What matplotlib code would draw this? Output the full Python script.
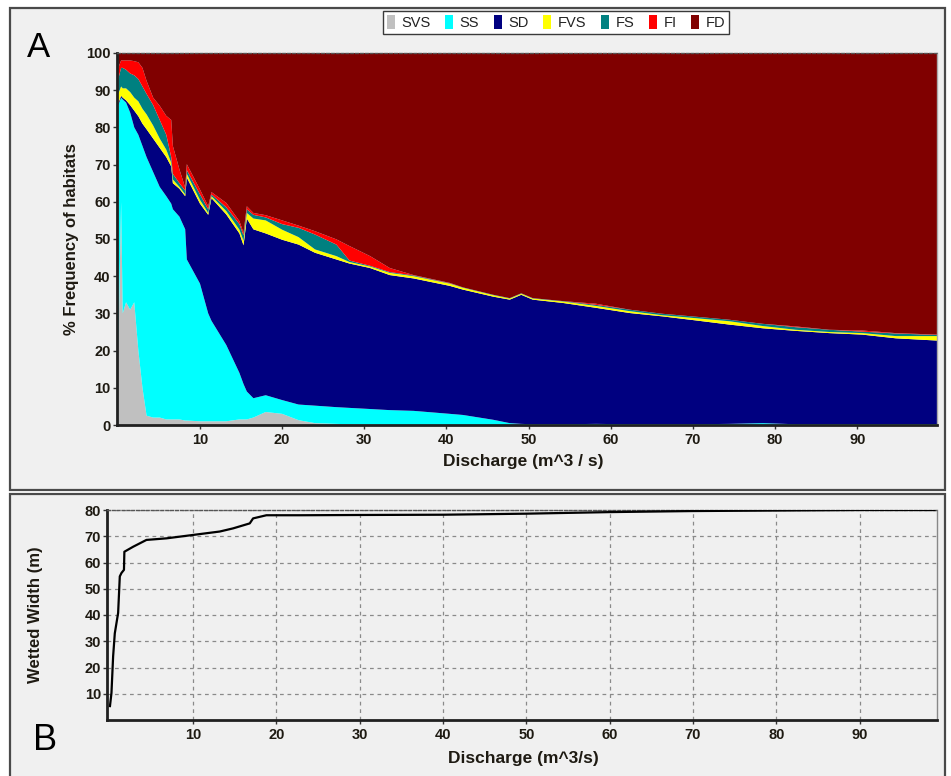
import numpy as np
import matplotlib
matplotlib.use("Agg")
import matplotlib.pyplot as plt
from matplotlib.patches import Rectangle, Patch

plt.rcParams['font.family'] = ['Liberation Sans', 'DejaVu Sans']

# ---------------- Panel A data: % frequency of habitats vs discharge ----------------
discharge_a = [0.05, 0.4, 0.6, 1.0, 1.5, 2.0, 2.5, 3.0, 3.5, 4.3, 5.1, 5.9, 6.5, 6.7, 7.5,
               8.2, 8.4, 10.0, 11.0, 11.4, 13.2, 14.8, 15.3, 15.7, 16.5, 18.0, 20.0, 22.0,
               24.0, 26.6, 28.2, 30.7, 33.1, 36.0, 40.4, 42.0, 45.7, 47.7, 49.1, 50.5, 54.2,
               58.2, 62.3, 66.3, 70.4, 74.4, 78.5, 82.5, 86.6, 90.6, 94.7, 99.7]
svs = [20, 60, 30, 33, 31, 33, 20, 10, 2.5, 2, 2, 1.5, 1.5, 1.5, 1.5,
       1.2, 1.2, 1, 1, 1, 1, 1.5, 1.5, 1.5, 2, 3.5, 3, 1.3,
       0.5, 0.3, 0.2, 0.1, 0, 0, 0, 0, 0, 0, 0, 0, 0,
       0, 0, 0, 0, 0, 0, 0, 0, 0, 0, 0]
ss = [66, 28, 57.5, 53.7, 53, 47, 58, 65, 69.5, 66, 62, 60, 58, 56.5, 54.5,
      51.4, 43.3, 37, 29, 27, 20.5, 12.5, 9.5, 7.5, 5.2, 4.5, 3.7, 4.2,
      4.7, 4.5, 4.4, 4.2, 4, 3.8, 3, 2.7, 1.4, 0.5, 0.3, 0.2, 0.2,
      0.3, 0.2, 0.2, 0.2, 0.3, 0.5, 0.2, 0.2, 0.2, 0.2, 0.2]
sd = [0.5, 0.5, 0.5, 0.6, 2, 4.5, 5, 6, 7.5, 9, 10.5, 10.5, 10, 7, 7.5,
      8.9, 22, 21.5, 26.5, 33, 35.1, 37.5, 37.3, 46.5, 45.4, 43.5, 43.1, 43,
      41.1, 39.7, 38.8, 37.9, 36.3, 35.6, 34.4, 33.7, 33.1, 33.2, 34.7, 33.5, 32.6,
      31.2, 29.9, 29, 27.9, 26.7, 25.5, 25.1, 24.5, 24.1, 23.1, 22.5]
fvs = [2.5, 2.5, 2.5, 3.2, 3.5, 3.5, 4, 4, 4, 3.5, 2.5, 2, 1, 1, 0.5,
       0.5, 1, 1, 0.5, 0.5, 0.9, 1, 1.2, 1.5, 2.9, 3.5, 2.7, 2,
       0.9, 0.9, 0.4, 0.4, 0.6, 0.6, 0.6, 0.5, 0.4, 0.3, 0.3, 0.3, 0.4,
       0.5, 0.5, 0.3, 0.6, 0.9, 0.6, 0.3, 0.3, 0.4, 0.6, 1.2]
fs = [4, 5, 5.5, 5, 5, 6, 6, 6, 5.5, 5.5, 5, 4, 1.5, 1.5, 1,
      1, 1, 1.5, 1, 0.5, 1, 1.5, 1.5, 1, 1, 0.8, 1.5, 2.5,
      4, 3.1, 0.4, 0.2, 0.2, 0.2, 0.1, 0.1, 0.1, 0.1, 0.1, 0.1, 0.1,
      0.3, 0.4, 0.4, 0.4, 0.4, 0.6, 0.7, 0.6, 0.4, 0.7, 0.3]
fi = [3, 2, 2, 2.5, 3.5, 3.8, 4.5, 5, 3.5, 2, 3.8, 5.1, 10, 7.5, 3.7,
      0.8, 1.6, 1.3, 0.8, 0.6, 1.2, 0.8, 0.7, 0.8, 0.5, 0.6, 1, 0.6,
      0.9, 1.4, 3.9, 2.6, 1.1, 0.1, 0.1, 0, 0, 0, 0, 0, 0,
      0.3, 0, 0, 0, 0, 0, 0.2, 0, 0.3, 0.1, 0.1]
fd = [4, 2, 2, 2, 2, 2.2, 2.5, 4, 7.5, 12, 14.2, 16.9, 18, 25, 31.3,
      36.2, 29.9, 36.7, 41.2, 37.4, 40.3, 45.2, 48.3, 41.2, 43, 43.6, 45, 46.4,
      47.9, 50.1, 51.9, 54.6, 57.8, 59.7, 61.8, 63, 65, 65.9, 64.6, 65.9, 66.7,
      67.4, 69, 70.1, 70.9, 71.7, 72.8, 73.5, 74.4, 74.6, 75.3, 75.7]
habitat_labels = ['SVS', 'SS', 'SD', 'FVS', 'FS', 'FI', 'FD']
habitat_colors = ['#c0c0c0', '#00ffff', '#000080', '#ffff00', '#008080', '#ff0000', '#800000']

# ---------------- Panel B data: wetted width vs discharge ----------------
discharge_b = [0.02, 0.2, 0.4, 0.6, 1.0, 1.2, 1.4, 1.7, 1.75, 2.8, 4.4, 6.8, 10.0, 13.2,
               14.8, 16.8, 17.2, 18.8, 22.8, 30, 40, 50, 60, 70, 80, 90, 99]
wetted_width = [5.3, 10.3, 24.3, 33, 40.8, 54.7, 56, 57.2, 64.1, 66, 68.6, 69.2, 70.5, 71.8,
                73, 74.9, 76.8, 78, 78, 78.1, 78.2, 78.6, 79.2, 79.6, 79.8, 80, 80]

TXT = '#1e1a12'

W, H = 951, 776
fig = plt.figure(figsize=(W / 100, H / 100), dpi=100, facecolor='white')

# panel frames
fig.patches.append(Rectangle((10 / W, 1 - 490 / H), 935 / W, 482 / H, transform=fig.transFigure,
                             facecolor='#f0f0f0', edgecolor='#4a4a4a', lw=1.6, zorder=-10))
fig.patches.append(Rectangle((10 / W, -0.01), 935 / W, (776 - 494) / H + 0.01, transform=fig.transFigure,
                             facecolor='#f0f0f0', edgecolor='#4a4a4a', lw=1.6, zorder=-10))

# ---------------- Panel A ----------------
axA = fig.add_axes([117 / W, 1 - 425 / H, 820 / W, 372 / H])
axA.stackplot(discharge_a, svs, ss, sd, fvs, fs, fi, fd, colors=habitat_colors,
              labels=habitat_labels, lw=0)
axA.set_xlim(-0.1, 99.7)
axA.set_ylim(0, 100)
axA.set_xticks([10, 20, 30, 40, 50, 60, 70, 80, 90])
axA.set_yticks([0, 10, 20, 30, 40, 50, 60, 70, 80, 90, 100])
axA.tick_params(axis='both', length=3, width=1, color='#333333', labelsize=10.5, labelcolor=TXT)
axA.tick_params(axis='y', pad=1.5)
axA.tick_params(axis='x', pad=3)
for lab in axA.get_xticklabels() + axA.get_yticklabels():
    lab.set_fontweight('bold')
for s in ['left', 'bottom']:
    axA.spines[s].set_color('#202020')
    axA.spines[s].set_linewidth(2)
axA.spines['top'].set_linestyle((0, (2, 1.5)))
axA.spines['top'].set_color('#555555')
axA.spines['top'].set_linewidth(1)
axA.spines['right'].set_color('#aaaaaa')
axA.spines['right'].set_linewidth(1)
axA.set_xlabel('Discharge (m^3 / s)', fontsize=12.5, fontweight='bold', color=TXT)
axA.xaxis.set_label_coords(0.495, -0.077)
axA.set_ylabel('% Frequency of habitats', fontsize=12, fontweight='bold', color=TXT)
axA.yaxis.set_label_coords(-0.046, 0.5)

handles = [Patch(facecolor=c, edgecolor='none') for c in habitat_colors]
fig.legend(handles, habitat_labels, loc='center', bbox_to_anchor=(556 / W, 1 - 22.5 / H), ncol=7,
           fontsize=10.5, frameon=True, fancybox=False, edgecolor='#3a3a3a', facecolor='white',
           handlelength=0.55, handleheight=1.15, handletextpad=0.45, columnspacing=1.0,
           borderpad=0.25, labelcolor='#222222', framealpha=1)

fig.text(27 / W, 1 - 57 / H, 'A', fontsize=25, color='black', ha='left', va='baseline')

# ---------------- Panel B ----------------
axB = fig.add_axes([107.3 / W, 1 - 720 / H, 829.7 / W, 210 / H])
axB.set_facecolor('#f0f0f0')
axB.plot(discharge_b, wetted_width, color='black', lw=1.6, zorder=3)
axB.set_xlim(-0.3, 99.3)
axB.set_ylim(0, 80)
axB.set_xticks([10, 20, 30, 40, 50, 60, 70, 80, 90])
axB.set_yticks([10, 20, 30, 40, 50, 60, 70, 80])
axB.grid(True, color='#8a8a8a', linestyle=(0, (3, 3)), lw=0.9)
axB.tick_params(axis='both', length=3, width=1, color='#333333', labelsize=10.5, labelcolor=TXT)
axB.tick_params(axis='y', pad=1.5)
axB.tick_params(axis='x', pad=3)
for lab in axB.get_xticklabels() + axB.get_yticklabels():
    lab.set_fontweight('bold')
for s in ['left', 'bottom']:
    axB.spines[s].set_color('#202020')
    axB.spines[s].set_linewidth(2)
axB.spines['top'].set_linestyle((0, (2, 1.5)))
axB.spines['top'].set_color('#555555')
axB.spines['top'].set_linewidth(1)
axB.spines['right'].set_color('#888888')
axB.spines['right'].set_linewidth(1)
axB.set_xlabel('Discharge (m^3/s)', fontsize=12.5, fontweight='bold', color=TXT)
axB.xaxis.set_label_coords(0.501, -0.15)
axB.set_ylabel('Wetted Width (m)', fontsize=12, fontweight='bold', color=TXT)
axB.yaxis.set_label_coords(-0.078, 0.5)

fig.text(33 / W, 1 - 750 / H, 'B', fontsize=26, color='black', ha='left', va='baseline')

fig.savefig('out.png', dpi=100, facecolor='white')
